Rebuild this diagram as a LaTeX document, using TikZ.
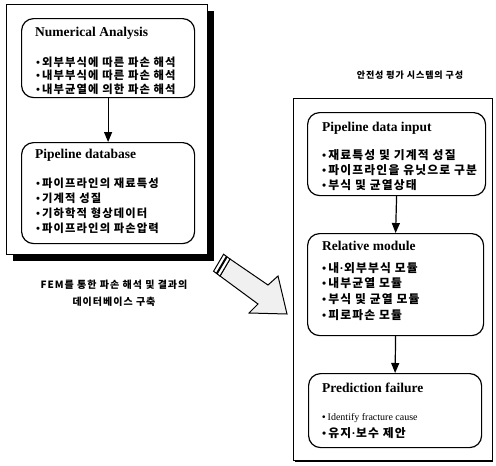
\documentclass[tikz,border=0pt]{standalone}
\usepackage{fontspec}
\setmainfont{Liberation Serif}
\newfontfamily\kr{Noto Sans CJK KR}[LetterSpace=10]
\usetikzlibrary{arrows.meta}
\newcommand{\bul}{{\normalfont\bfseries\textbullet}\kern2pt}
\newcommand{\mdot}{{\normalfont\bfseries\kern0.5pt·\kern0.5pt}}
\tikzset{
  outerbox/.style={draw, line width=0.9pt, fill=white, inner sep=0, anchor=north west},
  rbox/.style={draw, line width=1.2pt, rounded corners=12pt, fill=white, inner sep=0, anchor=north west},
  ttl/.style={anchor=west, inner sep=0, font=\fontsize{13.5}{13.5}\selectfont\bfseries},
  kline/.style={anchor=west, inner sep=0, font=\kr\bfseries\fontsize{11.3}{11.3}\selectfont},
  klinew/.style={anchor=west, inner sep=0, font=\kr\bfseries\fontsize{11.8}{11.8}\selectfont},
  eline/.style={anchor=west, inner sep=0, font=\fontsize{10}{10}\selectfont},
  klabel/.style={align=center, inner sep=0, font=\kr\bfseries\fontsize{10}{17}\selectfont},
  ktitle/.style={inner sep=0, font=\kr\bfseries\fontsize{9}{9}\selectfont},
  arr/.style={line width=1.2pt, -{Triangle[width=8pt,length=10pt]}},
}
\begin{document}
\begin{tikzpicture}[x=1pt,y=-1pt]
\useasboundingbox (0,0) rectangle (496,466);
% ---------- left panel ----------
\fill (13,11) rectangle (214,261);
\node[outerbox, minimum width=201pt, minimum height=250pt] (L) at (6,4) {};
\node[rbox, minimum width=173pt, minimum height=79pt] (na) at (21,18) {};
\node[ttl] (naT) at (35,33) {Numerical Analysis};
\node[kline] (na1) at (36,62) {\bul 외부부식에 따른 파손 해석};
\node[kline] (na2) at (36,75.5) {\bul 내부부식에 따른 파손 해석};
\node[kline] (na3) at (36,89) {\bul 내부균열에 의한 파손 해석};
\node[rbox, minimum width=173pt, minimum height=101pt] (pd) at (21,142) {};
\node[ttl] (pdT) at (35,155) {Pipeline database};
\node[kline] (pd1) at (36,183) {\bul 파이프라인의 재료특성};
\node[kline] (pd2) at (36,198) {\bul 기계적 성질};
\node[kline] (pd3) at (36,213) {\bul 기하학적 형상데이터};
\node[kline] (pd4) at (36,228) {\bul 파이프라인의 파손압력};
\draw[arr] (na.south) -- (pd.north);
\node[klabel] (lab1) at (114,293.5) {FEM를 통한 파손 해석 및 결과의\\데이터베이스 구축};
% ---------- big arrow ----------
\draw[line width=1pt, fill=gray!12]
  (230,259) -- (268,285) -- (278,276) -- (287,314) -- (249,313) -- (258,304) -- (220,276) -- cycle;
\draw[line width=1pt, fill=white] (230,259) -- (220,276) -- (213.6,271.2) -- (223.6,254.2) -- cycle;
\draw[line width=2pt] (226.8,256.6) -- (216.8,273.6);
% ---------- right panel ----------
\node[ktitle] (lab2) at (410,75) {안전성 평가 시스템의 구성};
\draw[line width=3.5pt] (295,460.5) -- (493,460.5);
\node[outerbox, minimum width=199pt, minimum height=362pt] (R) at (293,98) {};
\node[rbox, minimum width=178pt, minimum height=83pt] (pi) at (307,112) {};
\node[ttl] (piT) at (322,128) {Pipeline data input};
\node[klinew] (pi1) at (322,155) {\bul 재료특성 및 기계적 성질};
\node[klinew] (pi2) at (322,170) {\bul 파이프라인을 유닛으로 구분};
\node[klinew] (pi3) at (322,185) {\bul 부식 및 균열상태};
\node[rbox, minimum width=176pt, minimum height=102pt] (rm) at (307,233) {};
\node[ttl] (rmT) at (322,246) {Relative module};
\node[klinew] (rm1) at (322,268) {\bul 내\mdot 외부부식 모듈};
\node[klinew] (rm2) at (322,283) {\bul 내부균열 모듈};
\node[klinew] (rm3) at (322,299) {\bul 부식 및 균열 모듈};
\node[klinew] (rm4) at (322,315) {\bul 피로파손 모듈};
\node[rbox, minimum width=173pt, minimum height=74pt] (pf) at (308,373) {};
\node[ttl] (pfT) at (322,388) {Prediction failure};
\node[eline] (pf1) at (322,418) {\bul Identify fracture cause};
\node[klinew] (pf2) at (322,433) {\bul 유지\mdot 보수 제안};
\draw[arr] (pi.south) -- (rm.north);
\draw[arr] (rm.south) -- (pf.north);
\end{tikzpicture}
\end{document}
